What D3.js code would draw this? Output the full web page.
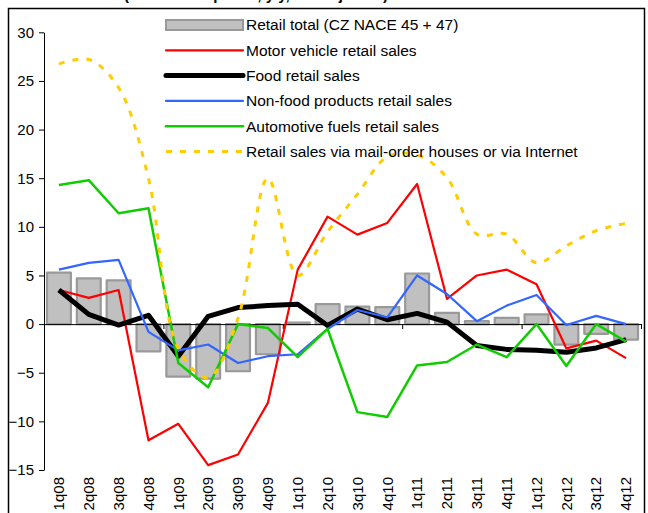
<!DOCTYPE html>
<html>
<head>
<meta charset="utf-8">
<script src="https://cdn.jsdelivr.net/npm/d3@7"></script>
<style>
  body { margin: 0; background: #fff; }
  svg { display: block; font-family: "Liberation Sans", Arial, sans-serif; }
</style>
</head>
<body>
<svg id="chart" width="648" height="513"></svg>
<script>
// data (y/y %)
const quarters = ["1q08","2q08","3q08","4q08","1q09","2q09","3q09","4q09","1q10","2q10",
                  "3q10","4q10","1q11","2q11","3q11","4q11","1q12","2q12","3q12","4q12"];
const retailTotal  = [5.3, 4.7, 4.5, -2.8, -5.4, -5.6, -4.85, -3.1, 0.15, 2.05, 1.8, 1.75, 5.2, 1.15, 0.3, 0.65, 1.0, -2.1, -1.0, -1.6];
const motorVehicle = [3.5, 2.7, 3.5, -11.95, -10.25, -14.5, -13.4, -8.1, 5.6, 11.05, 9.2, 10.4, 14.4, 2.6, 5.0, 5.6, 4.1, -2.5, -1.7, -3.5];
const food         = [3.5, 1.0, -0.1, 0.9, -3.3, 0.8, 1.7, 1.9, 2.05, -0.15, 1.55, 0.45, 1.1, 0.2, -2.2, -2.6, -2.7, -2.9, -2.45, -1.6];
const nonFood      = [5.6, 6.3, 6.6, -0.8, -2.7, -2.1, -4.0, -3.3, -3.1, -0.5, 1.45, 0.7, 5.0, 3.1, 0.3, 1.9, 3.0, -0.1, 0.85, 0.0];
const fuels        = [14.3, 14.8, 11.4, 11.9, -4.0, -6.5, 0.0, -0.4, -3.4, -0.5, -9.05, -9.55, -4.25, -3.9, -2.1, -3.4, 0.0, -4.3, 0.0, -1.8];
const internet     = [26.75, 27.2, 24.3, 15.0, -2.5, -5.5, 0.6, 15.0, 5.0, 9.5, 13.35, 17.2, 17.4, 15.05, 9.25, 9.25, 6.3, 8.05, 9.6, 10.35];
const yTicks = [-15, -10, -5, 0, 5, 10, 15, 20, 25, 30];

const svg = d3.select("#chart");

// title, cut off by the top edge as in the source image
svg.append("text")
  .attr("x", 124).attr("y", -0.5)
  .style("font-size", "15px").style("font-weight", "bold")
  .text("(at constant prices, y/y, not adjusted)");

// outer frame
svg.append("rect")
  .attr("x", 8.5).attr("y", 8.5)
  .attr("width", 636).attr("height", 530)
  .attr("fill", "none").attr("stroke", "#000").attr("stroke-width", 1.5);

// scales
const x = d3.scaleBand().domain(quarters).range([44, 641]).padding(0);
const xEdge = d3.scaleLinear().domain([0, quarters.length]).range([44, 641]);
const y = d3.scaleLinear().domain([-15, 30]).range([470, 32.3]);
const xc = i => x(quarters[i]) + x.bandwidth() / 2;

// y axis
const yAxis = svg.append("g")
  .attr("transform", "translate(44,0)")
  .call(d3.axisLeft(y).tickValues(yTicks).tickSize(5).tickSizeOuter(0).tickPadding(5));
yAxis.select(".domain").attr("stroke", "#000");
yAxis.selectAll("text").style("font-size", "15px").style("fill", "#000")
  .style("font-family", "'Liberation Sans', Arial, sans-serif");

// bars (Retail total)
const barW = x.bandwidth() * 0.8;
svg.append("g").selectAll("rect")
  .data(retailTotal)
  .enter().append("rect")
  .attr("x", (d, i) => xc(i) - barW / 2)
  .attr("y", d => y(Math.max(0, d)))
  .attr("width", barW)
  .attr("height", d => Math.abs(y(d) - y(0)))
  .attr("fill", "#c0c0c0")
  .attr("stroke", "#999")
  .attr("stroke-width", 2.2)
  .attr("stroke-linejoin", "round");

// x axis on zero line, ticks every year
const xAxis = svg.append("g")
  .attr("transform", `translate(0,${y(0)})`)
  .call(d3.axisBottom(xEdge).tickValues([4, 8, 12, 16, 20]).tickFormat("").tickSize(5).tickSizeOuter(0));
xAxis.select(".domain").attr("stroke", "#000");

// category labels at the bottom
svg.append("g").selectAll("text")
  .data(quarters)
  .enter().append("text")
  .attr("transform", (d, i) => `translate(${xc(i)},477) rotate(-90)`)
  .attr("dy", "0.35em")
  .attr("text-anchor", "end")
  .style("font-size", "15px")
  .text(d => d);

// line series
const series = [
  { name: "Motor vehicle retail sales", values: motorVehicle, color: "#ff0000", width: 2.2 },
  { name: "Food retail sales", values: food, color: "#000000", width: 5 },
  { name: "Non-food products retail sales", values: nonFood, color: "#3366ff", width: 2.2 },
  { name: "Automotive fuels retail sales", values: fuels, color: "#11cc00", width: 2.5 },
  { name: "Retail sales via mail-order houses or via Internet", values: internet, color: "#ffcc00", width: 3, dash: "6,8", smooth: true }
];

series.forEach(s => {
  const line = d3.line()
    .x((d, i) => xc(i))
    .y(d => y(d))
    .curve(s.smooth ? d3.curveCatmullRom.alpha(0.5) : d3.curveLinear);
  svg.append("path")
    .datum(s.values)
    .attr("d", line)
    .attr("fill", "none")
    .attr("stroke", s.color)
    .attr("stroke-width", s.width)
    .attr("stroke-dasharray", s.dash || null)
    .attr("stroke-linejoin", "round");
});

// legend
const legend = svg.append("g");
const rowY = i => 25 + i * 25.3;
legend.append("rect")
  .attr("x", 166).attr("y", 20)
  .attr("width", 77).attr("height", 10)
  .attr("fill", "#c0c0c0").attr("stroke", "#999").attr("stroke-width", 2);
legend.append("text")
  .attr("x", 246).attr("y", rowY(0)).attr("dy", "0.35em")
  .style("font-size", "15.5px")
  .text("Retail total (CZ NACE 45 + 47)");

series.forEach((s, i) => {
  legend.append("line")
    .attr("x1", 166).attr("x2", 243)
    .attr("y1", rowY(i + 1)).attr("y2", rowY(i + 1))
    .attr("stroke", s.color)
    .attr("stroke-width", s.width)
    .attr("stroke-dasharray", s.dash || null)
    .attr("stroke-linecap", s.dash ? "butt" : "round");
  legend.append("text")
    .attr("x", 246).attr("y", rowY(i + 1)).attr("dy", "0.35em")
    .style("font-size", "15.5px")
    .text(s.name);
});
</script>
</body>
</html>
